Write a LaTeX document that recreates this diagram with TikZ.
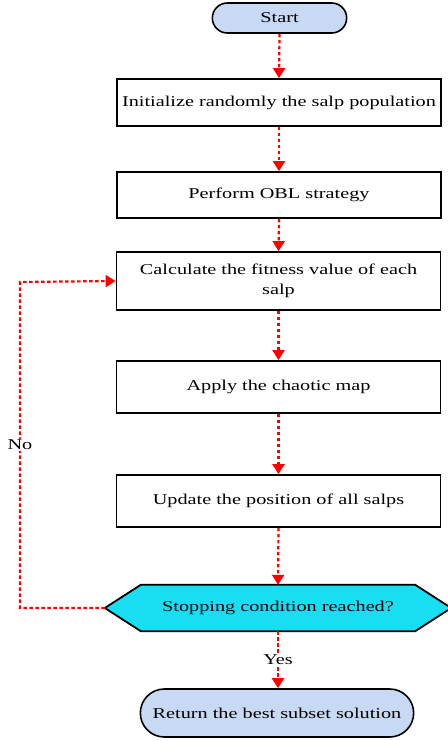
\documentclass[tikz,border=0pt]{standalone}
\usepackage{fontspec}
\setmainfont[FakeStretch=1.35]{Liberation Serif}
\usetikzlibrary{arrows.meta,shapes.misc,backgrounds}
\definecolor{termfill}{RGB}{200,218,243}
\definecolor{condfill}{RGB}{24,222,242}
\definecolor{flowred}{RGB}{255,0,0}
\tikzset{
  every node/.style={font=\fontsize{15}{20}\selectfont},
  stepbox/.style={draw=black, line width=1.8pt, minimum width=324pt, align=center, inner sep=2pt},
  terminal/.style={draw=black, line width=1.6pt, fill=termfill, rounded rectangle},
  flow/.style={draw=flowred, line width=2.2pt, dash pattern=on 3.5pt off 2.5pt,
    -{Triangle[length=10pt,width=12pt]}},
  lbl/.style={fill=white, inner sep=1pt}
}
\begin{document}
\begin{tikzpicture}[x=1pt,y=-1pt]
\useasboundingbox (0,0) rectangle (447,741);

\node[terminal, minimum width=141pt, minimum height=30pt] (start) at (279.5,18) {Start};
\node[stepbox, minimum height=47pt] (b1) at (279,102.5) {Initialize randomly the salp population};
\node[stepbox, minimum height=46pt] (b2) at (279,195) {Perform OBL strategy};
\node[stepbox, minimum height=58pt] (b3) at (278.5,281) {Calculate the fitness value of each\\salp};
\node[stepbox, minimum height=52pt] (b4) at (278.5,387) {Apply the chaotic map};
\node[stepbox, minimum height=52pt] (b5) at (278.5,501) {Update the position of all salps};
\node[minimum width=274pt, minimum height=46pt, inner sep=0pt] (cond) at (278,608) {Stopping condition reached?};
\coordinate (condW) at ([xshift=-36pt]cond.west);
\coordinate (condE) at ([xshift=36pt]cond.east);
\begin{scope}[on background layer]
  \draw[line width=1.8pt, fill=condfill] (cond.north west) -- (cond.north east) -- (condE)
    -- (cond.south east) -- (cond.south west) -- (condW) -- cycle;
\end{scope}
\node[terminal, minimum width=280pt, minimum height=48pt] (end) at (277,713) {Return the best subset solution};

\coordinate (loopB) at (20,608);
\coordinate (loopT) at (20,282);

\draw[flow] (start.south) -- (b1.north);
\draw[flow] (b1.south) -- (b2.north);
\draw[flow] (b2.south) -- (b3.north);
\draw[flow] (b3.south) -- (b4.north);
\draw[flow] (b4.south) -- (b5.north);
\draw[flow] (b5.south) -- (cond.north);
\draw[flow] (cond.south) -- node[lbl] (yes) {Yes} (cond.south |- end.north);
\draw[flow] (condW) -- (loopB) -- node[lbl, pos=0.5] (no) {No} (loopT) -- (b3.west);
\end{tikzpicture}
\end{document}
